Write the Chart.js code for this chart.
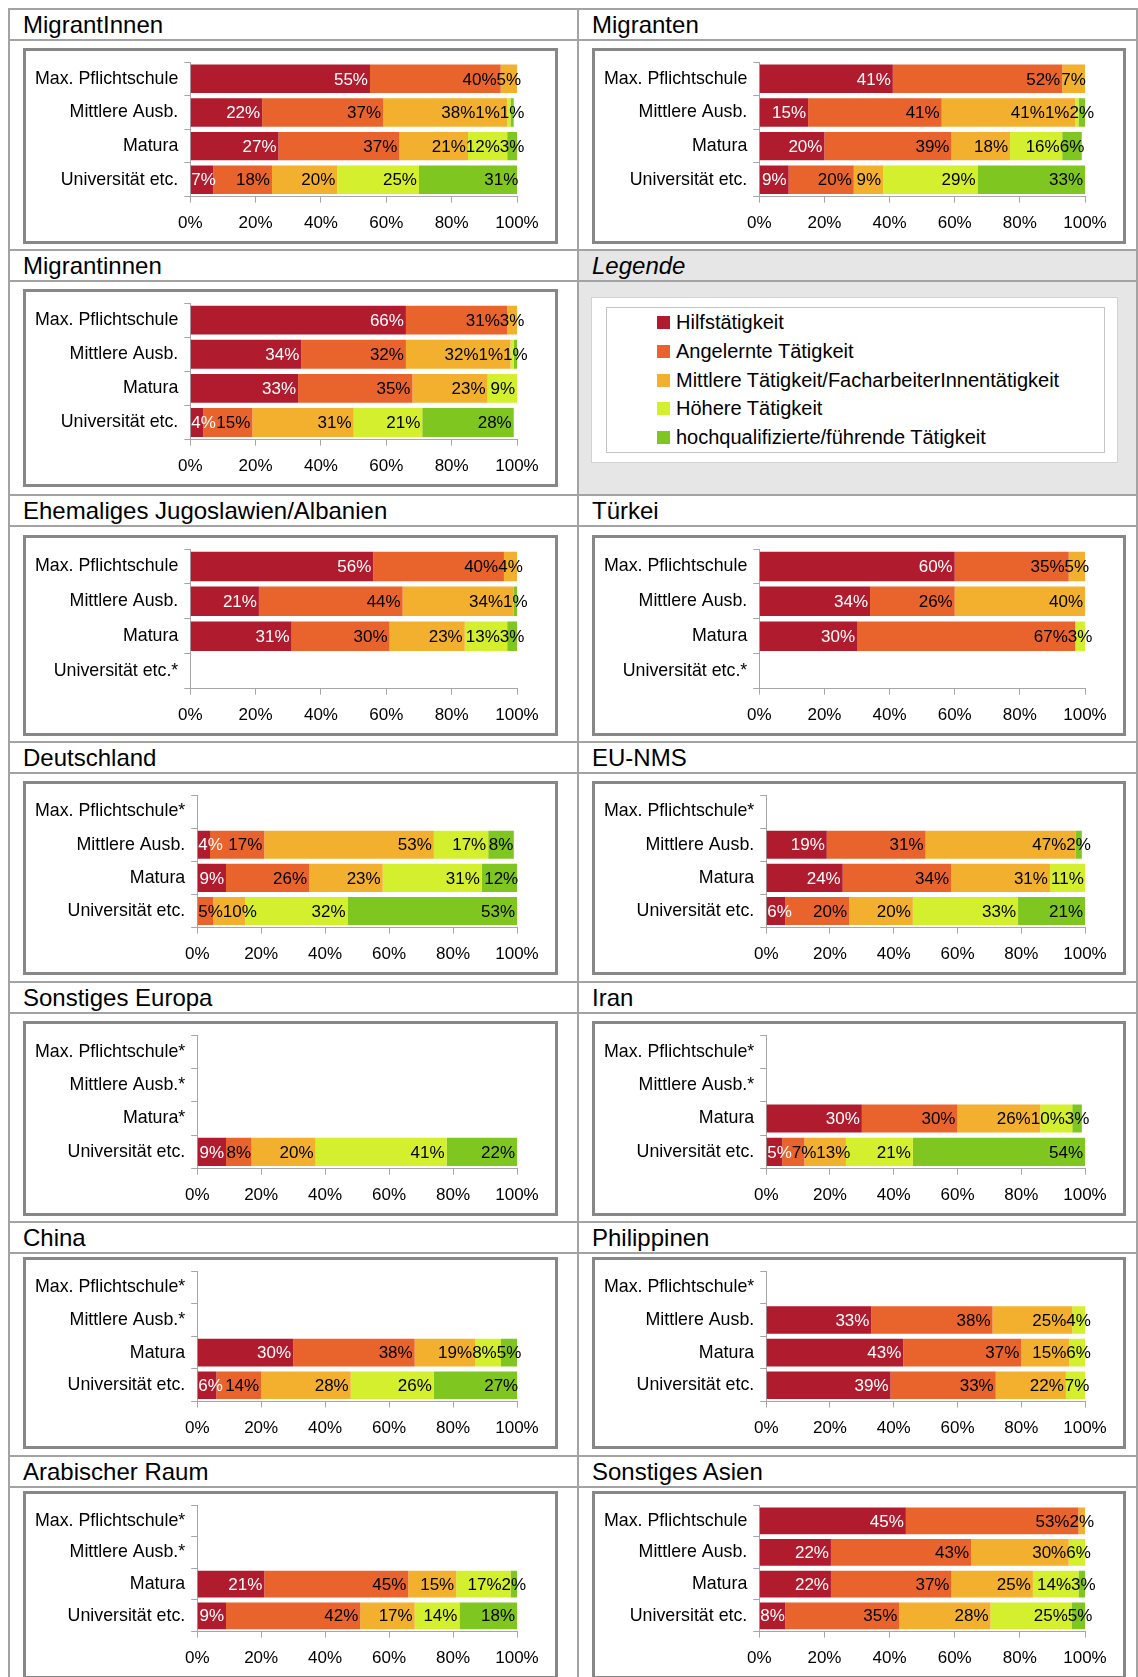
<!DOCTYPE html>
<html lang="de">
<head>
<meta charset="utf-8">
<title>Tätigkeitsniveau nach höchster Ausbildung</title>
<script src="https://cdn.jsdelivr.net/npm/chart.js@4/dist/chart.umd.min.js"></script>
<style>
  body { margin: 0; background: #fff; font-family: "Liberation Sans", Arial, sans-serif; }
  #page { position: relative; width: 1138px; height: 1677px; overflow: hidden; }
  .line { position: absolute; background: #a3a3a3; }
  .shade { position: absolute; background: #e6e6e6; }
  .title { position: absolute; font-size: 24px; line-height: 31px; color: #000; white-space: nowrap; }
  .box { position: absolute; border: 3px solid #878787; box-sizing: border-box; background: #fff; }
  .legend-outer { position: absolute; background: #fff; border: 1px solid #d2d2d2; box-sizing: border-box; }
  .legend-inner { position: absolute; border: 1px solid #c4c4c4; box-sizing: border-box; }
  .legend-item { position: absolute; font-size: 20px; line-height: 22px; white-space: nowrap; }
  .legend-item i { display: inline-block; width: 13px; height: 13px; margin-right: 6px; vertical-align: 0; }
</style>
</head>
<body>
<div id="page"></div>
<script>
const categories = ['Max. Pflichtschule', 'Mittlere Ausb.', 'Matura', 'Universität etc.'];
const seriesNames = [
  'Hilfstätigkeit',
  'Angelernte Tätigkeit',
  'Mittlere Tätigkeit/FacharbeiterInnentätigkeit',
  'Höhere Tätigkeit',
  'hochqualifizierte/führende Tätigkeit',
];
const seriesColors = ['#b01c2e', '#e9632c', '#f2b02e', '#d4ef2d', '#7fc620'];
const tickValues = [0, 20, 40, 60, 80, 100];

// one row per category (order as above), one value per series; null = too few cases (*)
const migrantInnen = [[55, 40, 5, 0, 0], [22, 37, 38, 1, 1], [27, 37, 21, 12, 3], [7, 18, 20, 25, 31]];
const migranten = [[41, 52, 7, 0, 0], [15, 41, 41, 1, 2], [20, 39, 18, 16, 6], [9, 20, 9, 29, 33]];
const migrantinnen = [[66, 31, 3, 0, 0], [34, 32, 32, 1, 1], [33, 35, 23, 9, 0], [4, 15, 31, 21, 28]];
const jugoslawien = [[56, 40, 4, 0, 0], [21, 44, 34, 0, 1], [31, 30, 23, 13, 3], null];
const tuerkei = [[60, 35, 5, 0, 0], [34, 26, 40, 0, 0], [30, 67, 0, 3, 0], null];
const deutschland = [null, [4, 17, 53, 17, 8], [9, 26, 23, 31, 12], [0, 5, 10, 32, 53]];
const euNms = [null, [19, 31, 47, 0, 2], [24, 34, 31, 11, 0], [6, 20, 20, 33, 21]];
const sonstEuropa = [null, null, null, [9, 8, 20, 41, 22]];
const iran = [null, null, [30, 30, 26, 10, 3], [5, 7, 13, 21, 54]];
const china = [null, null, [30, 38, 19, 8, 5], [6, 14, 28, 26, 27]];
const philippinen = [null, [33, 38, 25, 4, 0], [43, 37, 15, 6, 0], [39, 33, 22, 7, 0]];
const arabRaum = [null, null, [21, 45, 15, 17, 2], [9, 42, 17, 14, 18]];
const sonstAsien = [[45, 53, 2, 0, 0], [22, 43, 30, 6, 0], [22, 37, 25, 14, 3], [8, 35, 28, 25, 5]];

// null entry = the legend cell
const panels = [
  ['MigrantInnen', migrantInnen], ['Migranten', migranten],
  ['Migrantinnen', migrantinnen], null,
  ['Ehemaliges Jugoslawien/Albanien', jugoslawien], ['Türkei', tuerkei],
  ['Deutschland', deutschland], ['EU-NMS', euNms],
  ['Sonstiges Europa', sonstEuropa], ['Iran', iran],
  ['China', china], ['Philippinen', philippinen],
  ['Arabischer Raum', arabRaum], ['Sonstiges Asien', sonstAsien],
];

const FONT = '"Liberation Sans", Arial, sans-serif';
Chart.defaults.color = '#000';
Chart.defaults.font.family = FONT;
Chart.defaults.font.size = 17;

const page = document.getElementById('page');
const rowTops = [8, 249, 494, 741, 981, 1221, 1455];
const boxTops = [48, 289, 535, 781, 1021, 1257, 1491];
const boxBottoms = [244, 487, 736, 975, 1216, 1449, 1679];
const colLines = [8, 577, 1136];
const boxX = [[23, 558], [592, 1126]];

function el(cls, style, text) {
  const div = document.createElement('div');
  div.className = cls;
  Object.assign(div.style, style);
  if (text) div.textContent = text;
  page.appendChild(div);
  return div;
}

// legend cell background
el('shade', { left: '577px', top: `${rowTops[1]}px`, width: '559px', height: `${rowTops[2] - rowTops[1]}px` });

// table lines
rowTops.forEach((y) => {
  el('line', { left: '8px', top: `${y}px`, width: '1130px', height: '2px' });
  el('line', { left: '8px', top: `${y + 31}px`, width: '1130px', height: '2px' });
});
colLines.forEach((x) => {
  el('line', { left: `${x}px`, top: '8px', width: '2px', height: '1700px' });
});

// percent labels at the inner end of each segment, centred when they do not fit,
// then nudged so neighbours do not overlap
const barLabels = {
  id: 'barLabels',
  afterDatasetsDraw(chart) {
    const { ctx, chartArea } = chart;
    ctx.save();
    ctx.font = `17px ${FONT}`;
    ctx.textAlign = 'left';
    ctx.textBaseline = 'middle';
    chart.data.labels.forEach((label, j) => {
      const items = [];
      chart.data.datasets.forEach((dataset, i) => {
        const value = dataset.data[j];
        if (!value) return;
        const bar = chart.getDatasetMeta(i).data[j];
        const text = `${value}%`;
        const w = ctx.measureText(text).width;
        const segW = bar.x - bar.base;
        const right = w + 4 <= segW ? bar.x - 2 : (bar.base + bar.x) / 2 + w / 2;
        items.push({ text, w, left: right - w, y: bar.y, color: i === 0 ? '#fff' : '#000' });
      });
      for (let k = items.length - 2; k >= 0; k -= 1) {
        const limit = items[k + 1].left;
        if (items[k].left + items[k].w > limit) items[k].left = limit - items[k].w;
      }
      let minLeft = chartArea.left + 1;
      items.forEach((item) => {
        if (item.left < minLeft) item.left = minLeft;
        minLeft = item.left + item.w;
      });
      items.forEach((item) => {
        ctx.fillStyle = item.color;
        ctx.fillText(item.text, item.left, item.y + 1);
      });
    });
    ctx.restore();
  },
};

function drawChart(box, rows) {
  const canvas = document.createElement('canvas');
  box.appendChild(canvas);
  return new Chart(canvas, {
    type: 'bar',
    data: {
      labels: categories.map((c, i) => (rows[i] ? c : `${c}*`)),
      datasets: seriesNames.map((name, s) => ({
        label: name,
        data: rows.map((r) => (r ? r[s] : null)),
        backgroundColor: seriesColors[s],
        barPercentage: 0.845,
        categoryPercentage: 1,
      })),
    },
    options: {
      indexAxis: 'y',
      responsive: true,
      maintainAspectRatio: false,
      animation: false,
      layout: { padding: { left: 3, right: 38, top: 11, bottom: -4 } },
      plugins: { legend: { display: false }, tooltip: { enabled: false } },
      scales: {
        x: {
          stacked: true,
          min: 0,
          max: 100,
          afterBuildTicks: (axis) => {
            axis.ticks = tickValues.map((value) => ({ value }));
          },
          ticks: { callback: (v) => `${v}%`, padding: 11, maxRotation: 0 },
          grid: { drawOnChartArea: false, tickLength: 6, color: '#a6a6a6' },
          border: { color: '#a6a6a6' },
        },
        y: {
          stacked: true,
          ticks: { padding: 6, font: { size: 17.8 } },
          grid: { drawOnChartArea: false, tickLength: 6, color: '#a6a6a6' },
          border: { color: '#a6a6a6' },
          afterFit: (axis) => {
            axis.paddingTop = 0;
            axis.paddingBottom = 0;
          },
        },
      },
    },
    plugins: [barLabels],
  });
}

panels.forEach((panel, i) => {
  const col = i % 2;
  const row = Math.floor(i / 2);
  const top = rowTops[row];
  const cellX = colLines[col];
  if (!panel) {
    const title = el('title', { left: `${cellX + 15}px`, top: `${top + 1}px` }, 'Legende');
    title.style.fontStyle = 'italic';
    const outer = el('legend-outer', { left: '591px', top: '297px', width: '527px', height: '166px' });
    const inner = document.createElement('div');
    inner.className = 'legend-inner';
    Object.assign(inner.style, { left: '14px', top: '9px', width: '499px', height: '146px' });
    outer.appendChild(inner);
    seriesNames.forEach((name, s) => {
      const item = document.createElement('div');
      item.className = 'legend-item';
      item.style.left = '50px';
      item.style.top = `${3 + s * 28.8}px`;
      const swatch = document.createElement('i');
      swatch.style.background = seriesColors[s];
      item.appendChild(swatch);
      item.appendChild(document.createTextNode(name));
      inner.appendChild(item);
    });
    return;
  }
  const [name, rows] = panel;
  el('title', { left: `${cellX + 15}px`, top: `${top + 1}px` }, name);
  const [x0, x1] = boxX[col];
  const box = el('box', {
    left: `${x0}px`,
    top: `${boxTops[row]}px`,
    width: `${x1 - x0}px`,
    height: `${boxBottoms[row] - boxTops[row]}px`,
  });
  drawChart(box, rows);
});
</script>
</body>
</html>
